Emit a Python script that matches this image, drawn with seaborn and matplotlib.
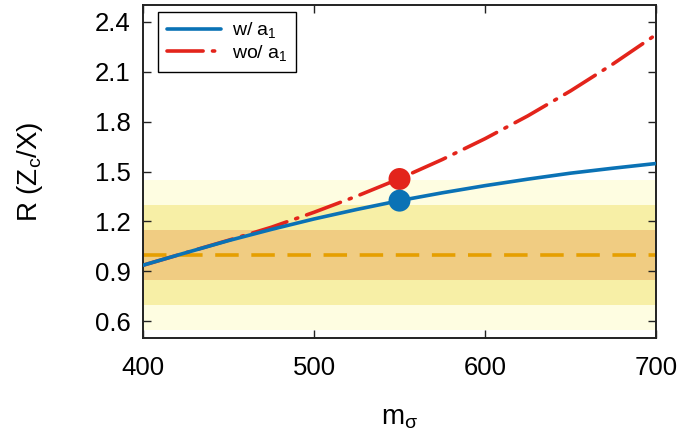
import numpy as np
import pandas as pd
import matplotlib
matplotlib.use('Agg')
import matplotlib.pyplot as plt
import seaborn as sns

# Curve data
m_sigma = [400, 425, 450, 475, 500, 525, 550, 575, 600, 625, 650, 675, 700]
r_with_a1 = [0.937, 1.012, 1.085, 1.152, 1.215, 1.272, 1.325, 1.372, 1.415, 1.454, 1.49, 1.52, 1.548]
r_without_a1 = [0.937, 1.012, 1.087, 1.165, 1.255, 1.352, 1.457, 1.572, 1.697, 1.834, 1.984, 2.147, 2.322]

# Highlighted points
mark_m = [550]
mark_with = [1.325]
mark_without = [1.455]

# Reference band around R = 1
band_center = 1.0
band_halfwidths = [0.45, 0.30, 0.15]
band_colors = ['#fefde1', '#f7efa6', '#f0cc82']

y_ticks = [0.6, 0.9, 1.2, 1.5, 1.8, 2.1, 2.4]
x_ticks = [400, 500, 600, 700]

sns.set_theme(style='ticks')
plt.rcParams['font.family'] = ['Liberation Sans', 'DejaVu Sans']
plt.rcParams['mathtext.fontset'] = 'custom'
plt.rcParams['mathtext.rm'] = 'Liberation Sans'
plt.rcParams['mathtext.it'] = 'Liberation Sans'
plt.rcParams['mathtext.default'] = 'regular'
plt.rcParams['text.color'] = 'black'
plt.rcParams['axes.labelcolor'] = 'black'
plt.rcParams['xtick.color'] = 'black'
plt.rcParams['ytick.color'] = 'black'

df = pd.DataFrame({'m': m_sigma, 'w': r_with_a1, 'wo': r_without_a1})

fig = plt.figure(figsize=(6.99, 4.32), dpi=100)
ax = fig.add_axes([0.2046, 0.2176, 0.7339, 0.7708])

for hw, col in zip(band_halfwidths, band_colors):
    ax.axhspan(band_center - hw, band_center + hw, color=col, lw=0, zorder=0)
ax.axhline(band_center, color='#e69f00', lw=2.6, dashes=(6.5, 3.5), zorder=1)

sns.lineplot(data=df, x='m', y='wo', ax=ax, color='#e3241b', lw=2.6,
             label='wo/ a$_1$', zorder=2)
sns.lineplot(data=df, x='m', y='w', ax=ax, color='#0a72b5', lw=2.6,
             label='w/ a$_1$', zorder=3)
ax.lines[-2].set_dashes((10, 2.6, 0.6, 2.6))
ax.lines[-2].set_dash_capstyle('round')

sns.scatterplot(x=mark_m, y=mark_without, ax=ax, color='#e3241b', s=250,
                edgecolor='none', zorder=4)
sns.scatterplot(x=mark_m, y=mark_with, ax=ax, color='#0a72b5', s=250,
                edgecolor='none', zorder=4)

ax.set_xlim(400, 700)
ax.set_ylim(0.5, 2.5)
ax.set_xticks(x_ticks)
ax.set_yticks(y_ticks)
ax.set_yticklabels([f'{v:.1f}' for v in y_ticks])
ax.tick_params(direction='in', length=6, width=1, top=True, right=True,
               labelsize=18.5, color='#222222')
ax.tick_params(axis='x', pad=13)
ax.tick_params(axis='y', pad=9)
for sp in ax.spines.values():
    sp.set_visible(True)
    sp.set_linewidth(1.4)
    sp.set_color('#222222')

ax.set_xlabel('m$_\\sigma$', fontsize=20, labelpad=18)
ax.set_ylabel('R (Z$_c$/X)', fontsize=20, labelpad=36)

handles, labels = ax.get_legend_handles_labels()
order = [labels.index('w/ a$_1$'), labels.index('wo/ a$_1$')]
leg = ax.legend([handles[i] for i in order], [labels[i] for i in order],
                loc='upper left', bbox_to_anchor=(0.029, 0.98), fontsize=14,
                frameon=True, fancybox=False, framealpha=1, edgecolor='black',
                handlelength=2.8, borderpad=0.45, labelspacing=0.12,
                handletextpad=0.55, borderaxespad=0.0)
leg.get_frame().set_linewidth(1.0)

fig.savefig('out.png', dpi=100)
